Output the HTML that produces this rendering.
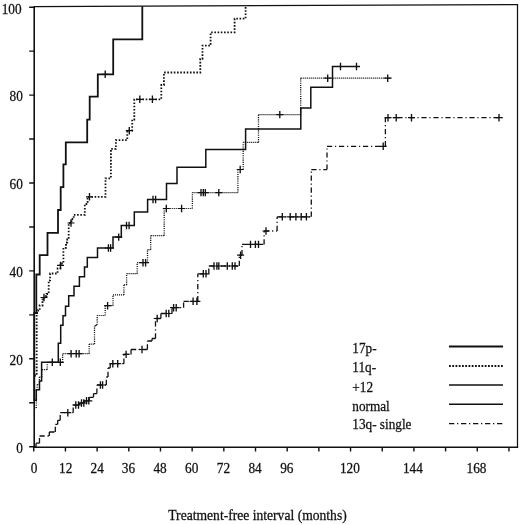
<!DOCTYPE html>
<html><head><meta charset="utf-8"><title>Treatment-free interval</title>
<style>
html,body{margin:0;padding:0;background:#fff;}
body{width:520px;height:525px;overflow:hidden;}
svg{display:block;}
.t{font-family:"Liberation Serif",serif;font-size:13.3px;fill:#111;stroke:#111;stroke-width:0.25px;}
.tl{font-family:"Liberation Serif",serif;font-size:13.25px;fill:#111;stroke:#111;stroke-width:0.25px;}
.t2{font-family:"Liberation Serif",serif;font-size:13.6px;fill:#111;stroke:#111;stroke-width:0.25px;}
svg{filter:grayscale(1);}
</style></head><body>
<svg width="520" height="525" viewBox="0 0 520 525">
<rect width="520" height="525" fill="#fff"/>
<path d="M34.3 447.25V6.55L517.5 4.7V447.25" fill="none" stroke="#111" stroke-width="1.25" stroke-linejoin="miter"/>
<path d="M33.6 447.25H518.1" fill="none" stroke="#111" stroke-width="1.6"/>
<path d="M34.3 447.25V6.55" fill="none" stroke="#111" stroke-width="1.4"/>
<path d="M29.2 446.7H34.3M29.2 402.75H34.3M29.2 358.8H34.3M29.2 314.85H34.3M29.2 270.9H34.3M29.2 226.95H34.3M29.2 183H34.3M29.2 139.05H34.3M29.2 95.1H34.3M29.2 51.15H34.3M29.2 7.2H34.3M33.75 447V451.5M65.43 447V451.5M97.11 447V451.5M128.79 447V451.5M160.47 447V451.5M192.15 447V451.5M223.83 447V451.5M255.51 447V451.5M287.19 447V451.5M318.87 447V451.5M350.55 447V451.5M382.23 447V451.5M413.91 447V451.5M445.59 447V451.5M477.27 447V451.5M508.95 447V451.5" stroke="#111" stroke-width="1.4" fill="none"/>
<text transform="translate(22.9 453) scale(1 1.05)" text-anchor="end" class="t">0</text>
<text transform="translate(22.9 365.1) scale(1 1.05)" text-anchor="end" class="t">20</text>
<text transform="translate(22.9 277.2) scale(1 1.05)" text-anchor="end" class="t">40</text>
<text transform="translate(22.9 189.3) scale(1 1.05)" text-anchor="end" class="t">60</text>
<text transform="translate(22.9 101.4) scale(1 1.05)" text-anchor="end" class="t">80</text>
<text transform="translate(21.6 13.5) scale(1 1.05)" text-anchor="end" class="t">100</text>
<text transform="translate(34.15 472.9) scale(1 1.05)" text-anchor="middle" class="t">0</text>
<text transform="translate(65.73 472.9) scale(1 1.05)" text-anchor="middle" class="t">12</text>
<text transform="translate(97.21 472.9) scale(1 1.05)" text-anchor="middle" class="t">24</text>
<text transform="translate(128.39 472.9) scale(1 1.05)" text-anchor="middle" class="t">36</text>
<text transform="translate(160.07 472.9) scale(1 1.05)" text-anchor="middle" class="t">48</text>
<text transform="translate(191.75 472.9) scale(1 1.05)" text-anchor="middle" class="t">60</text>
<text transform="translate(223.43 472.9) scale(1 1.05)" text-anchor="middle" class="t">72</text>
<text transform="translate(255.11 472.9) scale(1 1.05)" text-anchor="middle" class="t">84</text>
<text transform="translate(286.79 472.9) scale(1 1.05)" text-anchor="middle" class="t">96</text>
<text transform="translate(349.85 472.9) scale(1 1.05)" text-anchor="middle" class="t">120</text>
<text transform="translate(412.91 472.9) scale(1 1.05)" text-anchor="middle" class="t">144</text>
<text transform="translate(476.47 472.9) scale(1 1.05)" text-anchor="middle" class="t">168</text>
<text transform="translate(257.5 520) scale(1 1.05)" text-anchor="middle" class="t2">Treatment-free interval (months)</text>
<g fill="none" stroke="#111" stroke-linejoin="miter" stroke-linecap="butt">
<path d="M34.3 408H36.3M36.3 390H37.2M37.2 384.5H39.4M39.4 377H41.8M41.8 369.7H47.2M47.2 362.3H62.6M62.6 353.7H89.2M89.2 344.1H94.5M94.5 326H95.8M95.8 324.8H97.2M97.2 315.5H105.2M105.2 305.7H113M113 294.9H123.9M123.9 284.9H126.6M126.6 273.7H137.2M137.2 262.7H147.5M147.5 249.7H150.7M150.7 235.7H164.2M164.2 208.5H192.4M192.4 192.6H237.9M237.9 169.5H243.2M243.2 142.4H258.5M258.5 114.6H300.7M300.7 78.2H391.5" stroke-width="1.2" stroke-dasharray="1.1 0.9" stroke="#111"/>
<path d="M36.3 408V390M37.2 390V384.5M39.4 384.5V377M41.8 377V369.7M47.2 369.7V362.3M62.6 362.3V353.7M89.2 353.7V344.1M94.5 344.1V326M95.8 326V324.8M97.2 324.8V315.5M105.2 315.5V305.7M113 305.7V294.9M123.9 294.9V284.9M126.6 284.9V273.7M137.2 273.7V262.7M147.5 262.7V249.7M150.7 249.7V235.7M164.2 235.7V208.5M192.4 208.5V192.6M237.9 192.6V169.5M243.2 169.5V142.4M258.5 142.4V114.6M300.7 114.6V78.2" stroke-width="1.3" stroke-dasharray="1.1 1.1" stroke="#111"/>
<path d="M34 447H36M36 443.2H39.5M39.5 436H49.3M49.3 432H55.3M55.3 424.3H57.7M57.7 420.3H60.2M60.2 412.7H73.2M73.2 405H79.5M79.5 403H84.5M84.5 400.8H89.2M89.2 397.3H93.5M93.5 393.6H96.9M96.9 385H106.3M106.3 377H108M108 368H110.2M110.2 363.7H123.9M123.9 354.4H131M131 349.5H147.4M147.4 341H152M152 338.5H155.5M155.5 318.5H160.9M160.9 313.5H172M172 307.7H183.6M183.6 301.3H197.8M197.8 273.8H208.8M208.8 266H239.3M239.3 255.2H242M242 244.4H264.1M264.1 231H277.1M277.1 216.8H311.3M311.3 169.6H327M327 146.3H385.4M385.4 117.7H502.5M36 447V443.2M39.5 443.2V436M49.3 436V432M55.3 432V424.3M57.7 424.3V420.3M60.2 420.3V412.7M73.2 412.7V405M79.5 405V403M84.5 403V400.8M89.2 400.8V397.3M93.5 397.3V393.6M96.9 393.6V385M106.3 385V377M108 377V368M110.2 368V363.7M123.9 363.7V354.4M131 354.4V349.5M147.4 349.5V341M152 341V338.5M155.5 338.5V318.5M160.9 318.5V313.5M172 313.5V307.7M183.6 307.7V301.3M197.8 301.3V273.8M208.8 273.8V266M239.3 266V255.2M242 255.2V244.4M264.1 244.4V231M277.1 231V216.8M311.3 216.8V169.6M327 169.6V146.3M385.4 146.3V117.7" stroke-width="1.3" stroke-dasharray="5.2 2.8 1.2 2.8"/>
<path d="M34.3 375.5L36.7 375.5L36.7 313L38.2 313L38.2 310L39.7 310L39.7 305.5L42.5 305.5L42.5 299.5L44.4 299.5L44.4 296L46.5 296L46.5 294L48.7 294L48.7 280.4L50.1 280.4L50.1 273.5L57.6 273.5L57.6 268.5L60.4 268.5L60.4 263.5L63.4 263.5L63.4 247.8L66 247.8L66 242.5L67.2 242.5L67.2 239.5L68.7 239.5L68.7 223L71.5 223L71.5 219L73.7 219L73.7 214.8L84.8 214.8L84.8 204L87.6 204L87.6 196.8L105.5 196.8L105.5 178.3L110.9 178.3L110.9 148.8L115.9 148.8L115.9 140.1L127.3 140.1L127.3 130.5L132.2 130.5L132.2 119.5L134.3 119.5L134.3 99.3L161.3 99.3L161.3 85L163.9 85L163.9 72.5L200.3 72.5L200.3 58.8L202.5 58.8L202.5 45.6L210.6 45.6L210.6 32.3L234.6 32.3L234.6 18.7L245.6 18.7L245.6 6.5" stroke-width="1.8" stroke-dasharray="1.6 1.63"/>
<path d="M34.3 400.3L36.3 400.3L36.3 389.8L39.5 389.8L39.5 381L41.6 381L41.6 362.3L58.3 362.3L58.3 343.3L60.7 343.3L60.7 325.2L63 325.2L63 315.7L65.5 315.7L65.5 306.2L68.7 306.2L68.7 295.7L74 295.7L74 286.2L79.4 286.2L79.4 276.7L84.5 276.7L84.5 267.1L87.3 267.1L87.3 257.5L97.5 257.5L97.5 248L113 248L113 237.1L121.3 237.1L121.3 225.5L134.3 225.5L134.3 212.1L147.6 212.1L147.6 199.5L166.5 199.5L166.5 183.6L177 183.6L177 167.2L205.8 167.2L205.8 149.4L245.6 149.4L245.6 128.9L300.8 128.9L300.8 107.9L310.8 107.9L310.8 87.2L332.5 87.2L332.5 66.5L360 66.5" stroke-width="1.5"/>
<path d="M34.3 401L34.3 313L36.3 313L36.3 274.5L39.7 274.5L39.7 255.1L47.5 255.1L47.5 232.8L58 232.8L58 210L60.7 210L60.7 187.2L63.4 187.2L63.4 164.4L65.8 164.4L65.8 142.3L87.2 142.3L87.2 119.7L89.7 119.7L89.7 96.7L97.8 96.7L97.8 74.3L113.2 74.3L113.2 39.3L142.3 39.3L142.3 6.3" stroke-width="1.8"/>
<path d="M105.2 70.6V78M44 293.8V301.2M60.5 261.7V269.1M71 219.3V226.7M89.5 193.1V200.5M129.3 127V134.4M139.8 95.6V103M152.4 95.6V103M52.3 358.6V366M108.4 244.3V251.7M110.6 244.3V251.7M118.7 233.4V240.8M126.5 221.8V229.2M129.1 221.8V229.2M153 195.8V203.2M155.6 195.8V203.2M340.5 62.8V70.2M356.5 62.8V70.2M60.3 358.6V366M71.1 350V357.4M76.2 350V357.4M79.1 350V357.4M107.6 302V309.4M143 259V266.4M145.6 259V266.4M166.3 204.8V212.2M181.6 204.8V212.2M201 188.9V196.3M203.3 188.9V196.3M205.3 188.9V196.3M218.8 188.9V196.3M240.2 165.8V173.2M279.8 110.9V118.3M327.7 74.5V81.9M387.7 74.5V81.9M67.8 409V416.4M75.8 401.3V408.7M78.5 401.3V408.7M81.5 399.3V406.7M83.8 399.3V406.7M86.5 397.1V404.5M88.8 397.1V404.5M100.4 381.3V388.7M102.6 381.3V388.7M112.8 360V367.4M117.7 360V367.4M126.1 350.7V358.1M142 345.8V353.2M157.2 314.8V322.2M166.2 309.8V317.2M168.8 309.8V317.2M173.6 304V311.4M176.2 304V311.4M193.1 297.6V305M196.9 297.6V305M203.3 270.1V277.5M206 270.1V277.5M214 262.3V269.7M216.9 262.3V269.7M218.8 262.3V269.7M227.3 262.3V269.7M232.3 262.3V269.7M235 262.3V269.7M240.6 251.5V258.9M250.5 240.7V248.1M255.4 240.7V248.1M258.5 240.7V248.1M266 227.3V234.7M282.3 213.1V220.5M290.2 213.1V220.5M295.9 213.1V220.5M301.2 213.1V220.5M306.4 213.1V220.5M383.2 142.6V150M388 114V121.4M396.2 114V121.4M411.5 114V121.4M499 114V121.4" stroke-width="1.35"/>
<path d="M101.7 74.3H108.7M40.5 297.5H47.5M57 265.4H64M67.5 223H74.5M86 196.8H93M125.8 130.7H132.8M136.3 99.3H143.3M148.9 99.3H155.9M48.8 362.3H55.8M104.9 248H111.9M107.1 248H114.1M115.2 237.1H122.2M123 225.5H130M125.6 225.5H132.6M149.5 199.5H156.5M152.1 199.5H159.1M337 66.5H344M353 66.5H360M56.8 362.3H63.8M67.6 353.7H74.6M72.7 353.7H79.7M75.6 353.7H82.6M104.1 305.7H111.1M139.5 262.7H146.5M142.1 262.7H149.1M162.8 208.5H169.8M178.1 208.5H185.1M197.5 192.6H204.5M199.8 192.6H206.8M201.8 192.6H208.8M215.3 192.6H222.3M236.7 169.5H243.7M276.3 114.6H283.3M324.2 78.2H331.2M384.2 78.2H391.2M64.3 412.7H71.3M72.3 405H79.3M75 405H82M78 403H85M80.3 403H87.3M83 400.8H90M85.3 400.8H92.3M96.9 385H103.9M99.1 385H106.1M109.3 363.7H116.3M114.2 363.7H121.2M122.6 354.4H129.6M138.5 349.5H145.5M153.7 318.5H160.7M162.7 313.5H169.7M165.3 313.5H172.3M170.1 307.7H177.1M172.7 307.7H179.7M189.6 301.3H196.6M193.4 301.3H200.4M199.8 273.8H206.8M202.5 273.8H209.5M210.5 266H217.5M213.4 266H220.4M215.3 266H222.3M223.8 266H230.8M228.8 266H235.8M231.5 266H238.5M237.1 255.2H244.1M247 244.4H254M251.9 244.4H258.9M255 244.4H262M262.5 231H269.5M278.8 216.8H285.8M286.7 216.8H293.7M292.4 216.8H299.4M297.7 216.8H304.7M302.9 216.8H309.9M379.7 146.3H386.7M384.5 117.7H391.5M392.7 117.7H399.7M408 117.7H415M495.5 117.7H502.5" stroke-width="1.2"/>
</g>
<text transform="translate(352.3 353) scale(1 1.03)" class="tl">17p-</text>
<text transform="translate(352.3 372.4) scale(1 1.03)" class="tl">11q-</text>
<text transform="translate(352.3 391.8) scale(1 1.03)" class="tl">+12</text>
<text transform="translate(352.3 410.9) scale(1 1.03)" class="tl">normal</text>
<text transform="translate(352.3 429.4) scale(1 1.03)" class="tl">13q- single</text>
<path d="M449 346.4H503" stroke="#111" stroke-width="2"/>
<path d="M449 366H503.5" stroke="#111" stroke-width="1.8" stroke-dasharray="1.8 1.45"/>
<path d="M449 385.1H503" stroke="#111" stroke-width="1.5"/>
<path d="M449 404.3H503" stroke="#111" stroke-width="1.5"/>
<path d="M449 423.6H503" stroke="#111" stroke-width="1.4" stroke-dasharray="5.3 2.7 1.3 2.7"/>
</svg>
</body></html>
